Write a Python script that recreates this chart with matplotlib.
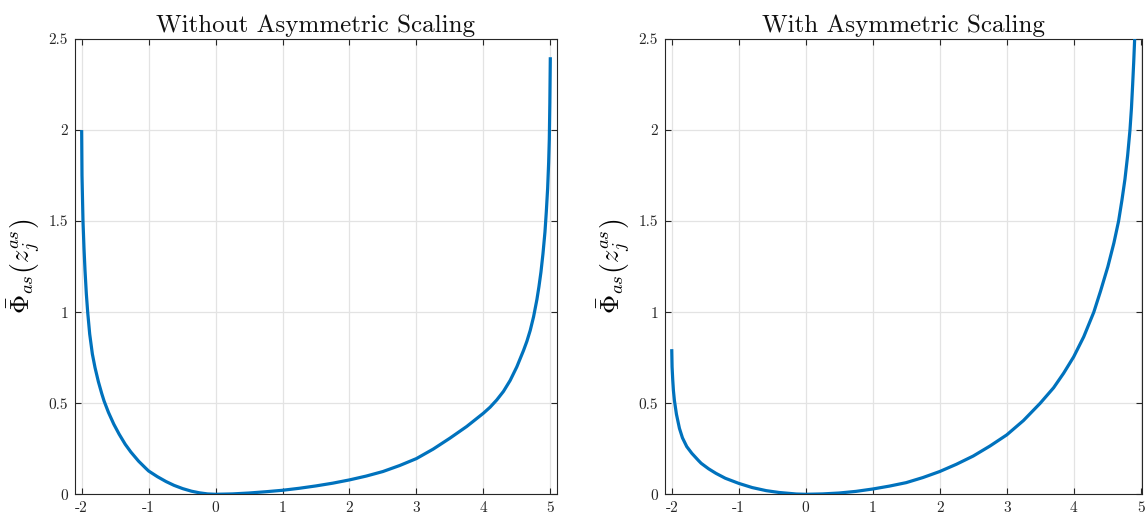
import matplotlib
matplotlib.use("Agg")
import matplotlib.pyplot as plt

# ---- data ----
x_without = [-2.0, -1.995, -1.98, -1.965, -1.95, -1.93, -1.91, -1.88, -1.84, -1.80,
             -1.75, -1.70, -1.665, -1.60, -1.52, -1.44, -1.35, -1.265, -1.15, -1.04,
             -1.0, -0.87, -0.74, -0.62, -0.49, -0.36, -0.24, -0.12, 0.0, 0.25,
             0.5, 0.75, 1.0, 1.25, 1.5, 1.75, 2.0, 2.25, 2.5, 2.75,
             3.0, 3.25, 3.5, 3.75, 4.0, 4.1, 4.2, 4.3, 4.4, 4.5,
             4.6, 4.65, 4.7, 4.75, 4.8, 4.83, 4.86, 4.89, 4.92, 4.94,
             4.96, 4.975, 4.985, 4.993, 5.0]
y_without = [2.0, 1.75, 1.5, 1.35, 1.23, 1.1, 1.0, 0.88, 0.77, 0.695,
             0.618, 0.553, 0.512, 0.45, 0.385, 0.33, 0.275, 0.232, 0.182, 0.142,
             0.128, 0.097, 0.07, 0.049, 0.031, 0.017, 0.008, 0.002, 0.0, 0.002,
             0.007, 0.014, 0.022, 0.033, 0.046, 0.061, 0.079, 0.1, 0.125, 0.158,
             0.196, 0.248, 0.308, 0.372, 0.445, 0.478, 0.518, 0.565, 0.625, 0.70,
             0.79, 0.84, 0.9, 0.975, 1.07, 1.14, 1.22, 1.32, 1.44, 1.55,
             1.68, 1.82, 1.95, 2.15, 2.4]

x_with = [-2.0, -1.995, -1.985, -1.975, -1.96, -1.93, -1.885, -1.84, -1.776, -1.7,
          -1.6, -1.56, -1.45, -1.34, -1.2, -1.0, -0.8, -0.59, -0.4, -0.14,
          0.0, 0.25, 0.5, 0.75, 1.0, 1.25, 1.5, 1.75, 2.0, 2.25,
          2.5, 2.75, 3.0, 3.25, 3.5, 3.7, 3.85, 4.0, 4.15, 4.3,
          4.4, 4.51, 4.6, 4.67, 4.72, 4.765, 4.805, 4.84, 4.862, 4.88,
          4.896, 4.91, 4.935]
y_with = [0.797, 0.70, 0.628, 0.57, 0.515, 0.44, 0.362, 0.31, 0.262, 0.225,
          0.185, 0.17, 0.14, 0.115, 0.088, 0.06, 0.037, 0.02, 0.01, 0.0015,
          0.0, 0.002, 0.007, 0.016, 0.029, 0.045, 0.064, 0.092, 0.125, 0.165,
          0.21, 0.265, 0.326, 0.405, 0.5, 0.585, 0.665, 0.755, 0.865, 1.0,
          1.115, 1.25, 1.38, 1.5, 1.615, 1.73, 1.86, 2.0, 2.12, 2.25,
          2.375, 2.5, 2.75]

titles = ["Without Asymmetric Scaling", "With Asymmetric Scaling"]
x_ticks = [-2, -1, 0, 1, 2, 3, 4, 5]
x_tick_labels = ["-2", "-1", "0", "1", "2", "3", "4", "5"]
y_ticks = [0, 0.5, 1, 1.5, 2, 2.5]
y_tick_labels = ["0", "0.5", "1", "1.5", "2", "2.5"]
ylabel = r"$\bar{\Phi}_{as}\left(z_j^{as}\right)$"

plt.rcParams["mathtext.fontset"] = "cm"
plt.rcParams["font.family"] = ["cmr10", "DejaVu Serif"]
plt.rcParams["axes.unicode_minus"] = False

fig = plt.figure(figsize=(11.48, 5.23), dpi=100)
positions = [[0.0653, 0.0549, 0.4199, 0.8705], [0.5793, 0.0549, 0.4155, 0.8705]]
xlims = [(-2.1, 5.1), (-2.1, 5.02)]
data = [(x_without, y_without), (x_with, y_with)]

for i in range(2):
    ax = fig.add_axes(positions[i])
    xs, ys = data[i]
    ax.plot(xs, ys, color="#0072BD", lw=2.3, solid_capstyle="butt",
            solid_joinstyle="round", zorder=3)
    ax.set_xlim(*xlims[i])
    ax.set_ylim(0, 2.5)
    ax.set_xticks(x_ticks)
    ax.set_xticklabels(x_tick_labels)
    ax.set_yticks(y_ticks)
    ax.set_yticklabels(y_tick_labels)
    ax.grid(True, color="#e3e3e3", lw=0.9)
    ax.set_axisbelow(True)
    ax.tick_params(direction="in", length=4, width=0.8, colors="#262626",
                   labelsize=11, top=True, right=True, pad=5)
    for lab in ax.get_xticklabels() + ax.get_yticklabels():
        lab.set_color("#262626")
    for s in ax.spines.values():
        s.set_color("#262626")
        s.set_linewidth(0.8)
    ax.set_title(titles[i], fontsize=18, pad=5, color="#111111")
    ax.set_ylabel(ylabel, fontsize=19, labelpad=4)

fig.savefig("out.png", dpi=100)
